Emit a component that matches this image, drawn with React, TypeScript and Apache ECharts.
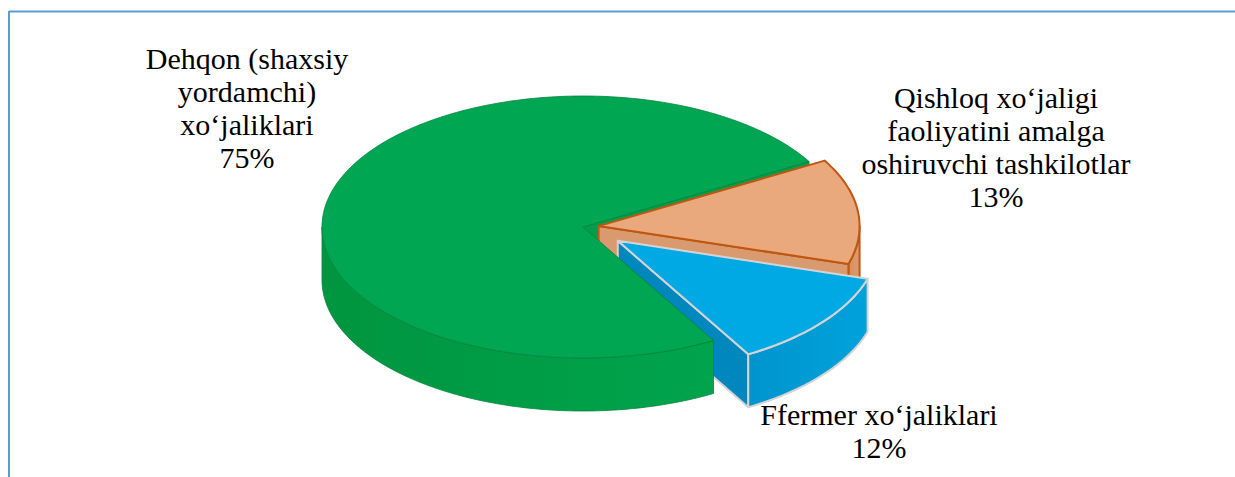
import React, { useEffect, useRef } from "react";
import * as echarts from "echarts";

// ---- data ----
const categories = [
  "Dehqon (shaxsiy\nyordamchi)\nxo‘jaliklari",
  "Qishloq xo‘jaligi\nfaoliyatini amalga\noshiruvchi tashkilotlar",
  "Ffermer xo‘jaliklari",
];
const values = [75, 13, 12];

// ---- styling (not data) ----
const explodeRatios = [0, 0.06, 0.17];
const topColors = ["#00A651", "#E9A97D", "#00A9E4"];
const sideColors = [
  ["#00953F", "#00A44D"],
  ["#D48F60", "#DC9C70"],
  ["#0094CD", "#00A2DC"],
];
const radialColors = ["#009E4B", "#D99A70", "#0087BD"];
const strokeColors = ["#00843F", "#C0560F", "#D4D4D4"];
const strokeWidths = [0.8, 2, 2];
const labelAnchors = [
  [247, 42],
  [996, 81],
  [879, 398],
];

const START_ANGLE = 300; // degrees, slices go clockwise
const CX = 583;
const CY = 227;
const RX = 261;
const RY = 131;
const DEPTH = 53;

const total = values.reduce((a, b) => a + b, 0);
const rad = (d: number) => (d * Math.PI) / 180;

function pt(a: number, ox: number, oy: number, dz: number) {
  return [CX + ox + RX * Math.cos(rad(a)), CY + oy - RY * Math.sin(rad(a)) + dz];
}
function arc(from: number, to: number, ox: number, oy: number, dz: number) {
  const n = Math.max(2, Math.ceil(Math.abs(to - from)));
  const pts: number[][] = [];
  for (let j = 0; j <= n; j++) {
    const a = from + ((to - from) * j) / n;
    pts.push(pt(a, ox, oy, dz));
  }
  return pts;
}
function avgY(pts: number[][]) {
  return pts.reduce((s, p) => s + p[1], 0) / pts.length;
}

export default function App() {
  const ref = useRef<HTMLDivElement>(null);

  useEffect(() => {
    if (!ref.current) return;
    const chart = echarts.init(ref.current, undefined, { renderer: "svg" });

    const renderItem = (params: any, api: any) => {
      const i = params.dataIndex;
      const v = api.value(0);
      let cum = 0;
      for (let k = 0; k < i; k++) cum += values[k];
      const a0 = START_ANGLE - (cum / total) * 360;
      const a1 = a0 - (v / total) * 360;
      const mid = (a0 + a1) / 2;
      const e = explodeRatios[i];
      const ox = e * RX * Math.cos(rad(mid));
      const oy = -e * RY * Math.sin(rad(mid));
      const stroke = strokeColors[i];
      const lw = strokeWidths[i];
      const children: any[] = [];

      // front-facing outer walls
      for (let k = -2; k <= 2; k++) {
        const lo = Math.max(a1, -180 + 360 * k);
        const hi = Math.min(a0, 360 * k);
        if (hi > lo) {
          const pts = [...arc(lo, hi, ox, oy, 0), ...arc(hi, lo, ox, oy, DEPTH)];
          children.push({
            type: "polygon",
            shape: { points: pts },
            z2: Math.round(avgY(pts)),
            style: {
              fill: new echarts.graphic.LinearGradient(0, 0, 1, 0, [
                { offset: 0, color: sideColors[i][0] },
                { offset: 1, color: sideColors[i][1] },
              ]),
              stroke,
              lineWidth: lw,
              lineJoin: "round",
            },
          });
        }
      }
      // visible radial faces
      const radial = (a: number) => {
        const c = [CX + ox, CY + oy];
        const p = pt(a, ox, oy, 0);
        const pts = [c, p, [p[0], p[1] + DEPTH], [c[0], c[1] + DEPTH]];
        children.push({
          type: "polygon",
          shape: { points: pts },
          z2: Math.round(avgY(pts)),
          style: { fill: radialColors[i], stroke, lineWidth: lw, lineJoin: "round" },
        });
      };
      if (Math.cos(rad(a0)) < 0) radial(a0);
      if (Math.cos(rad(a1)) > 0) radial(a1);

      // top face
      const topPts = [[CX + ox, CY + oy], ...arc(a0, a1, ox, oy, 0)];
      children.push({
        type: "polygon",
        shape: { points: topPts },
        z2: 2000,
        style: { fill: topColors[i], stroke, lineWidth: lw, lineJoin: "round" },
      });
      return { type: "group", children };
    };

    const labels = categories.map((c, i) => ({
      type: "text",
      x: labelAnchors[i][0],
      y: labelAnchors[i][1],
      z: 10,
      style: {
        text: `${c}\n${Math.round((values[i] / total) * 100)}%`,
        fontSize: 30,
        fontFamily: "Liberation Serif",
        fill: "#000",
        align: "center",
        verticalAlign: "top",
        lineHeight: 33,
      },
    }));

    chart.setOption({
      animation: false,
      backgroundColor: "#fff",
      series: [
        {
          type: "custom",
          coordinateSystem: "none",
          silent: true,
          renderItem,
          data: values.map((v, i) => ({ name: categories[i], value: v })),
        },
      ],
      graphic: [
        {
          type: "line",
          shape: { x1: 9, y1: 11.5, x2: 1235, y2: 11.5 },
          style: { stroke: "#5B9BD5", lineWidth: 2 },
        },
        {
          type: "line",
          shape: { x1: 9, y1: 11, x2: 9, y2: 477 },
          style: { stroke: "#5B9BD5", lineWidth: 2 },
        },
        ...labels,
      ],
    });
    return () => chart.dispose();
  }, []);

  return (
    <div
      ref={ref}
      style={{ position: "fixed", left: 0, top: 0, width: 1235, height: 477 }}
    />
  );
}
